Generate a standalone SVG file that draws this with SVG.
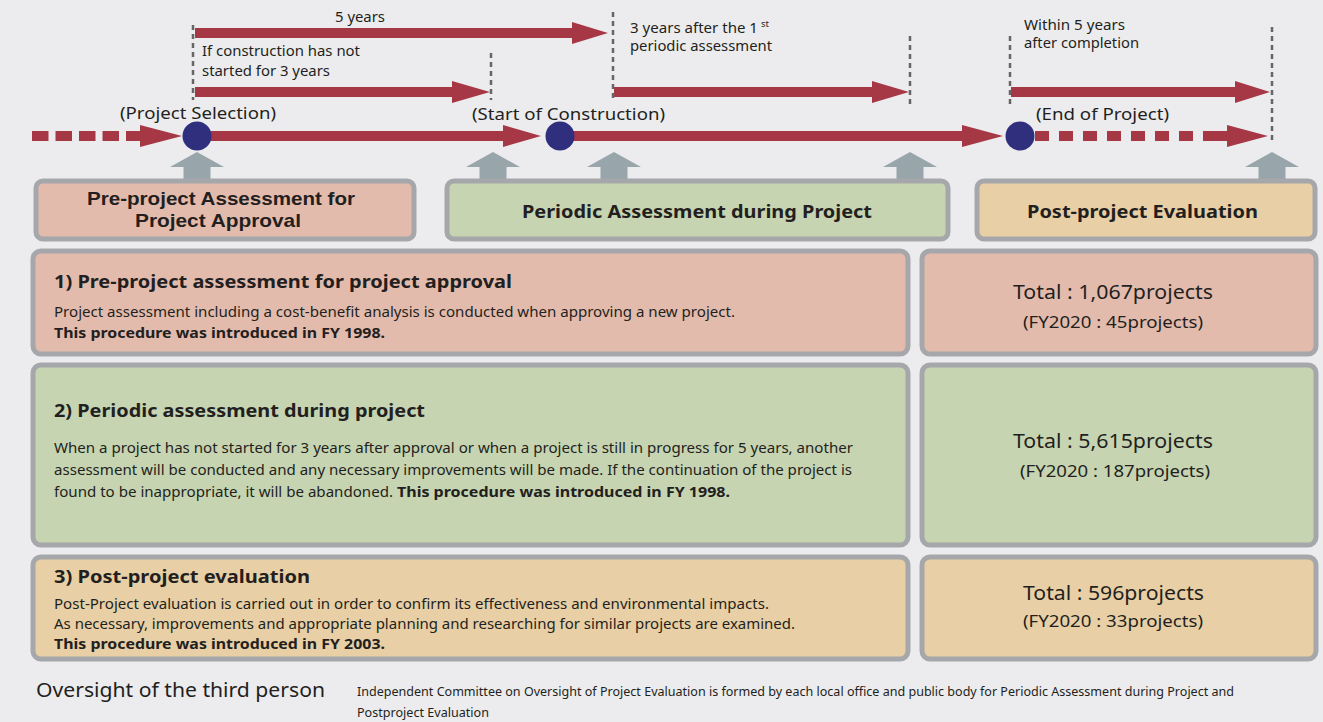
<svg xmlns="http://www.w3.org/2000/svg" width="1323" height="722" viewBox="0 0 1323 722">
<style>
text{font-family:"Noto Sans","Open Sans","Liberation Sans",sans-serif;fill:#231f20}
.b{font-weight:bold}
.lbl{font-size:15px}
.tl{font-size:17px}
.hd{font-size:18.5px;font-weight:bold}
.hd2{font-family:"Liberation Sans",Arial,sans-serif;font-size:19px;font-weight:bold}
.body{font-size:15px}
.ttl{font-size:18.5px;font-weight:bold}
.tot{font-size:19px}
.fy{font-size:16px}
.red{stroke:#a63845;stroke-width:10;fill:none}
.redf{fill:#a63845}
.vd{stroke:#666;stroke-width:2.5;stroke-dasharray:5 4;fill:none}
.up{fill:#98a5ab}
.box{stroke:#a6a7ab;stroke-width:5}
.pink{fill:#e3bbad}
.green{fill:#c6d4b1}
.tan{fill:#e8cfa5}
.dot{fill:#2f2f7e}
</style>
<rect width="1323" height="722" fill="#ececee"/>

<g id="connectors">
  <!-- upper duration arrows -->
  <line class="red" x1="195" y1="33" x2="575" y2="33"/>
  <polygon class="redf" points="572,22 608,33 572,44"/>
  <line class="red" x1="195" y1="92" x2="455" y2="92"/>
  <polygon class="redf" points="452,81 490,92 452,103"/>
  <line class="red" x1="614" y1="92" x2="875" y2="92"/>
  <polygon class="redf" points="872,81 909,92 872,103"/>
  <line class="red" x1="1011" y1="92" x2="1238" y2="92"/>
  <polygon class="redf" points="1235,81 1270,92 1235,103"/>
  <!-- vertical dashed markers -->
  <line class="vd" x1="193" y1="25" x2="193" y2="100"/>
  <line class="vd" x1="491" y1="53" x2="491" y2="100"/>
  <line class="vd" x1="613" y1="12" x2="613" y2="102"/>
  <line class="vd" x1="910" y1="36" x2="910" y2="105"/>
  <line class="vd" x1="1010" y1="36" x2="1010" y2="105"/>
  <line class="vd" x1="1272" y1="27" x2="1272" y2="140"/>
  <!-- main timeline -->
  <line class="red" x1="32" y1="136" x2="142" y2="136" stroke-dasharray="16.5 7"/>
  <polygon class="redf" points="140,125 182,136 140,147"/>
  <line class="red" x1="197" y1="136" x2="506" y2="136"/>
  <polygon class="redf" points="503,125 541,136 503,147"/>
  <line class="red" x1="560" y1="136" x2="965" y2="136"/>
  <polygon class="redf" points="962,125 1003,136 962,147"/>
  <line class="red" x1="1035" y1="136" x2="1229" y2="136" stroke-dasharray="14 10"/>
  <line class="red" x1="1212" y1="136" x2="1229" y2="136"/>
  <polygon class="redf" points="1227,125 1268,136 1227,147"/>
  <!-- up arrows -->
  <polygon class="up" points="197,152 224,167 210.5,167 210.5,182 183.5,182 183.5,167 170,167"/>
  <polygon class="up" points="493,152 520,167 506.5,167 506.5,182 479.5,182 479.5,167 466,167"/>
  <polygon class="up" points="614,152 641,167 627.5,167 627.5,182 600.5,182 600.5,167 587,167"/>
  <polygon class="up" points="910,152 937,167 923.5,167 923.5,182 896.5,182 896.5,167 883,167"/>
  <polygon class="up" points="1272,152 1299,167 1285.5,167 1285.5,182 1258.5,182 1258.5,167 1245,167"/>
</g>

<g id="timeline-labels">
  <text class="lbl" x="335" y="22" textLength="50" lengthAdjust="spacingAndGlyphs">5 years</text>
  <text class="lbl" x="202" y="56" textLength="158" lengthAdjust="spacingAndGlyphs">If construction has not</text>
  <text class="lbl" x="202" y="76" textLength="128" lengthAdjust="spacingAndGlyphs">started for 3 years</text>
  <text class="lbl" x="630" y="33"><tspan textLength="128" lengthAdjust="spacingAndGlyphs">3 years after the 1</tspan><tspan font-size="9.5" dx="3" dy="-6">st</tspan></text>
  <text class="lbl" x="630" y="51" textLength="142" lengthAdjust="spacingAndGlyphs">periodic assessment</text>
  <text class="lbl" x="1024" y="30" textLength="101" lengthAdjust="spacingAndGlyphs">Within 5 years</text>
  <text class="lbl" x="1024" y="48" textLength="115" lengthAdjust="spacingAndGlyphs">after completion</text>
</g>

<g id="node-project-selection">
  <circle class="dot" cx="197" cy="136" r="14.5"/>
  <text class="tl" x="120" y="119" textLength="156" lengthAdjust="spacingAndGlyphs">(Project Selection)</text>
</g>
<g id="node-start-construction">
  <circle class="dot" cx="560" cy="136" r="14.5"/>
  <text class="tl" x="472" y="120" textLength="193" lengthAdjust="spacingAndGlyphs">(Start of Construction)</text>
</g>
<g id="node-end-project">
  <circle class="dot" cx="1020" cy="136" r="14.5"/>
  <text class="tl" x="1036" y="120" textLength="133" lengthAdjust="spacingAndGlyphs">(End of Project)</text>
</g>

<g id="header-pre">
  <rect class="box pink" x="36" y="181" width="378" height="58" rx="7"/>
  <text class="hd2" x="87" y="205" textLength="268" lengthAdjust="spacingAndGlyphs">Pre-project Assessment for</text>
  <text class="hd2" x="135" y="227" textLength="166" lengthAdjust="spacingAndGlyphs">Project Approval</text>
</g>
<g id="header-periodic">
  <rect class="box green" x="447" y="181" width="501" height="58" rx="7"/>
  <text class="hd" x="522" y="218" textLength="350" lengthAdjust="spacingAndGlyphs">Periodic Assessment during Project</text>
</g>
<g id="header-post">
  <rect class="box tan" x="977" y="181" width="338" height="58" rx="7"/>
  <text class="hd" x="1027" y="218" textLength="231" lengthAdjust="spacingAndGlyphs">Post-project Evaluation</text>
</g>

<g id="detail-pre">
  <rect class="box pink" x="33" y="251" width="875" height="103" rx="8"/>
  <text class="ttl" x="54" y="288" textLength="458" lengthAdjust="spacingAndGlyphs">1) Pre-project assessment for project approval</text>
  <text class="body" x="54" y="317" textLength="681" lengthAdjust="spacingAndGlyphs">Project assessment including a cost-benefit analysis is conducted when approving a new project.</text>
  <text class="body b" x="54" y="338" textLength="331" lengthAdjust="spacingAndGlyphs">This procedure was introduced in FY 1998.</text>
</g>
<g id="total-pre">
  <rect class="box pink" x="922" y="251" width="394" height="103" rx="8"/>
  <text class="tot" x="1013" y="299" textLength="200" lengthAdjust="spacingAndGlyphs">Total : 1,067projects</text>
  <text class="fy" x="1023" y="328" textLength="180" lengthAdjust="spacingAndGlyphs">(FY2020 : 45projects)</text>
</g>

<g id="detail-periodic">
  <rect class="box green" x="33" y="365" width="875" height="180" rx="8"/>
  <text class="ttl" x="54" y="417" textLength="371" lengthAdjust="spacingAndGlyphs">2) Periodic assessment during project</text>
  <text class="body" x="54" y="453" textLength="799" lengthAdjust="spacingAndGlyphs">When a project has not started for 3 years after approval or when a project is still in progress for 5 years, another</text>
  <text class="body" x="54" y="475" textLength="798" lengthAdjust="spacingAndGlyphs">assessment will be conducted and any necessary improvements will be made. If the continuation of the project is</text>
  <text class="body" x="54" y="497" textLength="339" lengthAdjust="spacingAndGlyphs">found to be inappropriate, it will be abandoned.</text>
  <text class="body b" x="397" y="497" textLength="333" lengthAdjust="spacingAndGlyphs">This procedure was introduced in FY 1998.</text>
</g>
<g id="total-periodic">
  <rect class="box green" x="922" y="365" width="394" height="180" rx="8"/>
  <text class="tot" x="1013" y="448" textLength="200" lengthAdjust="spacingAndGlyphs">Total : 5,615projects</text>
  <text class="fy" x="1020" y="477" textLength="190" lengthAdjust="spacingAndGlyphs">(FY2020 : 187projects)</text>
</g>

<g id="detail-post">
  <rect class="box tan" x="33" y="557" width="875" height="102" rx="8"/>
  <text class="ttl" x="54" y="583" textLength="256" lengthAdjust="spacingAndGlyphs">3) Post-project evaluation</text>
  <text class="body" x="54" y="609" textLength="715" lengthAdjust="spacingAndGlyphs">Post-Project evaluation is carried out in order to confirm its effectiveness and environmental impacts.</text>
  <text class="body" x="54" y="629" textLength="741" lengthAdjust="spacingAndGlyphs">As necessary, improvements and appropriate planning and researching for similar projects are examined.</text>
  <text class="body b" x="54" y="649" textLength="331" lengthAdjust="spacingAndGlyphs">This procedure was introduced in FY 2003.</text>
</g>
<g id="total-post">
  <rect class="box tan" x="922" y="557" width="394" height="102" rx="8"/>
  <text class="tot" x="1023" y="600" textLength="181" lengthAdjust="spacingAndGlyphs">Total : 596projects</text>
  <text class="fy" x="1023" y="627" textLength="180" lengthAdjust="spacingAndGlyphs">(FY2020 : 33projects)</text>
</g>

<g id="oversight">
  <text x="36" y="697" font-size="19" textLength="289" lengthAdjust="spacingAndGlyphs">Oversight of the third person</text>
  <text x="357" y="696" font-size="13" textLength="877" lengthAdjust="spacingAndGlyphs">Independent Committee on Oversight of Project Evaluation is formed by each local office and public body for Periodic Assessment during Project and</text>
  <text x="357" y="717" font-size="13" textLength="132" lengthAdjust="spacingAndGlyphs">Postproject Evaluation</text>
</g>
</svg>
